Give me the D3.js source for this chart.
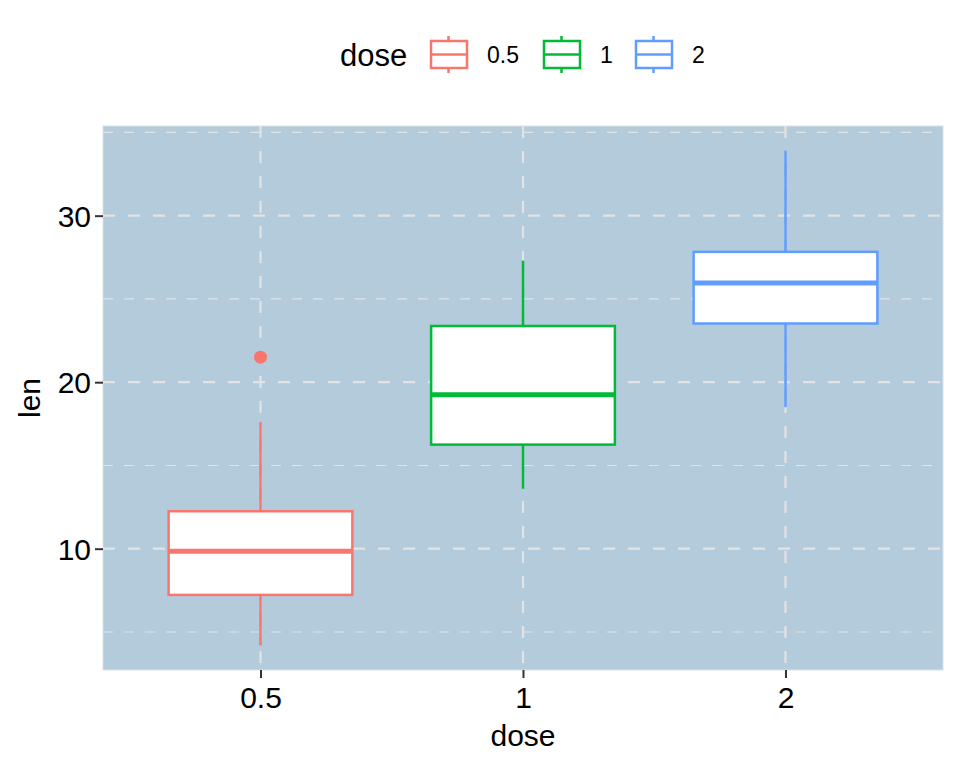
<!DOCTYPE html>
<html>
<head>
<meta charset="utf-8">
<script src="https://cdn.jsdelivr.net/npm/d3@7"></script>
<style>
  body { margin: 0; background: #fff; }
  text { font-family: "Liberation Sans", Arial, sans-serif; }
</style>
</head>
<body>
<div id="chart"></div>
<script>
window.addEventListener("DOMContentLoaded", function() {
    // Data (ToothGrowth len by dose, box statistics)
    const doses = ['0.5', '1', '2'];
    const lowerWhisker = [4.2, 13.6, 18.5];
    const q1 = [7.225, 16.25, 23.525];
    const median = [9.85, 19.25, 25.95];
    const q3 = [12.25, 23.375, 27.825];
    const upperWhisker = [17.6, 27.3, 33.9];
    const outliers = [[21.5], [], []];
    const yTicks = [10, 20, 30];
    const yMinor = [5, 15, 25, 35];
    const colors = ['#F8766D', '#00BA38', '#619CFF'];

    const width = 960, height = 768;
    const panel = { left: 103, right: 943, top: 126, bottom: 670 };

    const svg = d3.select('#chart')
        .append('svg')
        .attr('width', width)
        .attr('height', height);

    // Scales: discrete x with 0.6 expansion on each side
    const x = d3.scalePoint()
        .domain(doses)
        .range([panel.left, panel.right])
        .padding(0.6);
    const step = x.step();

    const y = d3.scaleLinear()
        .domain([2.715, 35.385])
        .range([panel.bottom, panel.top]);

    // Panel background
    svg.append('rect')
        .attr('x', panel.left).attr('y', panel.top)
        .attr('width', panel.right - panel.left)
        .attr('height', panel.bottom - panel.top)
        .attr('fill', '#B3CBDB')
        .attr('stroke', '#D6E2EA')
        .attr('stroke-width', 1);

    const grid = svg.append('g');
    // minor grid
    grid.selectAll('.minor')
        .data(yMinor)
        .enter().append('line')
        .attr('x1', panel.left).attr('x2', panel.right)
        .attr('y1', d => y(d)).attr('y2', d => y(d))
        .attr('stroke', '#E3E3E3')
        .attr('stroke-width', 1.1)
        .attr('stroke-dasharray', '10,11');
    // major grid
    grid.selectAll('.majorY')
        .data(yTicks)
        .enter().append('line')
        .attr('x1', panel.left).attr('x2', panel.right)
        .attr('y1', d => y(d)).attr('y2', d => y(d))
        .attr('stroke', '#E3E3E3')
        .attr('stroke-width', 2.2)
        .attr('stroke-dasharray', '12,13');
    grid.selectAll('.majorX')
        .data(doses)
        .enter().append('line')
        .attr('x1', d => x(d)).attr('x2', d => x(d))
        .attr('y1', panel.top).attr('y2', panel.bottom)
        .attr('stroke', '#E3E3E3')
        .attr('stroke-width', 2.2)
        .attr('stroke-dasharray', '12,13');

    // Boxplots
    const boxW = 0.7 * step;
    const boxes = svg.append('g').selectAll('g')
        .data(doses)
        .enter().append('g');

    boxes.append('line')
        .attr('x1', d => x(d)).attr('x2', d => x(d))
        .attr('y1', (d, i) => y(upperWhisker[i]))
        .attr('y2', (d, i) => y(q3[i]))
        .attr('stroke', (d, i) => colors[i])
        .attr('stroke-width', 2.5);
    boxes.append('line')
        .attr('x1', d => x(d)).attr('x2', d => x(d))
        .attr('y1', (d, i) => y(q1[i]))
        .attr('y2', (d, i) => y(lowerWhisker[i]))
        .attr('stroke', (d, i) => colors[i])
        .attr('stroke-width', 2.5);
    boxes.append('rect')
        .attr('x', d => x(d) - boxW / 2)
        .attr('width', boxW)
        .attr('y', (d, i) => y(q3[i]))
        .attr('height', (d, i) => y(q1[i]) - y(q3[i]))
        .attr('fill', 'white')
        .attr('stroke', (d, i) => colors[i])
        .attr('stroke-width', 2.5);
    boxes.append('line')
        .attr('x1', d => x(d) - boxW / 2).attr('x2', d => x(d) + boxW / 2)
        .attr('y1', (d, i) => y(median[i]))
        .attr('y2', (d, i) => y(median[i]))
        .attr('stroke', (d, i) => colors[i])
        .attr('stroke-width', 5);
    boxes.selectAll('circle')
        .data((d, i) => outliers[i].map(v => ({ d: d, v: v, c: colors[i] })))
        .enter().append('circle')
        .attr('cx', o => x(o.d))
        .attr('cy', o => y(o.v))
        .attr('r', 6.5)
        .attr('fill', o => o.c);

    // Axes
    const yAxis = svg.append('g').attr('transform', `translate(${panel.left},0)`)
        .call(d3.axisLeft(y).tickValues(yTicks).tickSize(8).tickPadding(4));
    yAxis.select('.domain').remove();
    yAxis.selectAll('line').attr('stroke', '#333').attr('stroke-width', 2);
    yAxis.selectAll('text').attr('fill', '#000').style('font-size', '30px')
        .attr('dy', '0.36em');

    const xAxis = svg.append('g').attr('transform', `translate(0,${panel.bottom})`)
        .call(d3.axisBottom(x).tickSize(8).tickPadding(4));
    xAxis.select('.domain').remove();
    xAxis.selectAll('line').attr('stroke', '#333').attr('stroke-width', 2);
    xAxis.selectAll('text').attr('fill', '#000').style('font-size', '30px')
        .attr('y', 38).attr('dy', null);

    // Axis titles
    svg.append('text')
        .attr('x', (panel.left + panel.right) / 2)
        .attr('y', 746)
        .attr('text-anchor', 'middle')
        .style('font-size', '30px')
        .text('dose');
    svg.append('text')
        .attr('transform', `translate(40,${(panel.top + panel.bottom) / 2}) rotate(-90)`)
        .attr('text-anchor', 'middle')
        .style('font-size', '30px')
        .text('len');

    // Legend
    const legend = svg.append('g');
    legend.append('text')
        .attr('x', 340).attr('y', 66)
        .style('font-size', '31px')
        .text('dose');
    const keyX = [430, 543, 635];
    const keys = legend.selectAll('.key')
        .data(doses)
        .enter().append('g')
        .attr('transform', (d, i) => `translate(${keyX[i]},0)`);
    keys.append('line')
        .attr('x1', 18.5).attr('x2', 18.5).attr('y1', 36).attr('y2', 73)
        .attr('stroke', (d, i) => colors[i]).attr('stroke-width', 2.5);
    keys.append('rect')
        .attr('x', 1).attr('y', 41).attr('width', 36).attr('height', 27)
        .attr('fill', 'white')
        .attr('stroke', (d, i) => colors[i]).attr('stroke-width', 2.5);
    keys.append('line')
        .attr('x1', 1).attr('x2', 37).attr('y1', 54.5).attr('y2', 54.5)
        .attr('stroke', (d, i) => colors[i]).attr('stroke-width', 2.5);
    keys.append('text')
        .attr('x', 57).attr('y', 63)
        .style('font-size', '23px')
        .text(d => d);
});
</script>
</body>
</html>
